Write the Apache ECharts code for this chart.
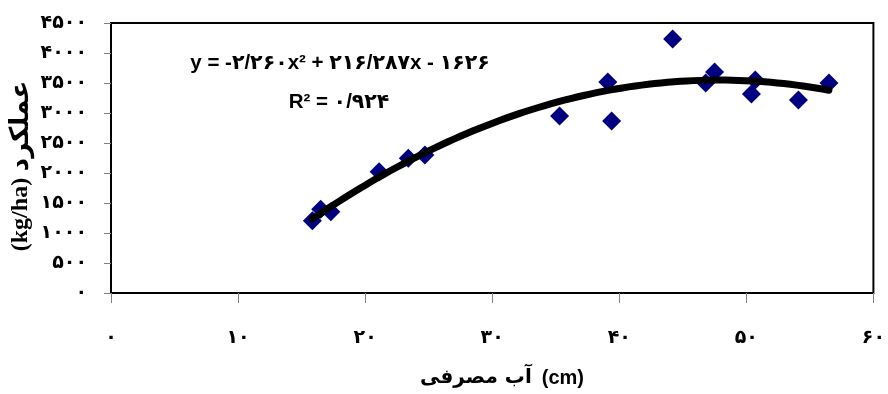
<!DOCTYPE html>
<html>
<head>
<meta charset="utf-8">
<script src="https://cdn.jsdelivr.net/npm/echarts@6/dist/echarts.min.js"></script>
<style>
  html, body { margin: 0; padding: 0; background: #fff; }
  #chart { width: 888px; height: 394px; }
</style>
</head>
<body>
<div id="chart"></div>
<script>
// Water applied (cm) and yield (kg/ha) for each plot
const waterCm = [15.85, 16.5, 17.3, 21.1, 23.4, 24.7, 35.3, 39.1, 39.4, 44.2, 46.8, 47.5, 50.4, 50.7, 54.1, 56.5];
const yieldKg = [1205, 1395, 1355, 2022, 2245, 2300, 2950, 3517, 2867, 4233, 3500, 3683, 3317, 3550, 3217, 3500];

// Quadratic trendline coefficients [a, b, c] for y = a x^2 + b x + c
const trendCoef = [-2.260, 216.287, -1626];

// Axis tick labels (Persian digits)
const xTickLabels = ['۰', '۱۰', '۲۰', '۳۰', '۴۰', '۵۰', '۶۰'];
const yTickLabels = ['۰', '۵۰۰', '۱۰۰۰', '۱۵۰۰', '۲۰۰۰', '۲۵۰۰', '۳۰۰۰', '۳۵۰۰', '۴۰۰۰', '۴۵۰۰'];

const eqText = 'y = -۲/۲۶۰x² + ۲۱۶/۲۸۷x - ۱۶۲۶';
const r2Text = 'R² = ۰/۹۲۴';
const xNameFa = 'آب مصرفی';
const xNameUnit = '(cm)';
const yNameFa = 'عملکرد';
const yNameUnit = '(kg/ha)';

const points = waterCm.map((x, i) => [x, yieldKg[i]]);

// Trendline drawn across the range of the measured points
const xMin = Math.min(...waterCm), xMax = Math.max(...waterCm);
const trend = [];
const steps = 80;
for (let i = 0; i <= steps; i++) {
  const x = xMin + (xMax - xMin) * i / steps;
  trend.push([x, trendCoef[0] * x * x + trendCoef[1] * x + trendCoef[2]]);
}

const chart = echarts.init(document.getElementById('chart'), null, { renderer: 'canvas' });
const digitFont = "'DejaVu Sans', sans-serif";
const sansBold = "'Liberation Sans', 'DejaVu Sans', sans-serif";

chart.setOption({
  animation: false,
  backgroundColor: '#fff',
  grid: {
    left: 111, right: 11, top: 23, bottom: 101,
    show: true, borderColor: '#000', borderWidth: 2, backgroundColor: 'transparent'
  },
  xAxis: {
    type: 'value', min: 0, max: 60, interval: 10,
    axisLine: { show: false },
    axisTick: { show: true, inside: false, length: 10, lineStyle: { color: '#808080', width: 1 } },
    splitLine: { show: false },
    axisLabel: {
      margin: 36, color: '#000', fontSize: 19, fontWeight: 'bold', fontFamily: digitFont,
      formatter: v => xTickLabels[Math.round(v / 10)]
    }
  },
  yAxis: {
    type: 'value', min: 0, max: 4500, interval: 500,
    axisLine: { show: false },
    axisTick: { show: true, inside: false, length: 7, lineStyle: { color: '#808080', width: 1 } },
    splitLine: { show: false },
    axisLabel: {
      margin: 24, color: '#000', fontSize: 19, fontWeight: 'bold', fontFamily: digitFont,
      formatter: v => yTickLabels[Math.round(v / 500)]
    }
  },
  graphic: [
    {
      type: 'text', x: 340, y: 63, z: 10,
      style: { text: eqText, fill: '#000', align: 'center', verticalAlign: 'middle',
               font: 'bold 20.5px ' + sansBold }
    },
    {
      type: 'text', x: 339, y: 102, z: 10,
      style: { text: r2Text, fill: '#000', align: 'center', verticalAlign: 'middle',
               font: 'bold 20.5px ' + sansBold }
    },
    {
      type: 'text', x: 502, y: 378, z: 10,
      style: {
        text: '{fa|' + xNameFa + '}   {en|' + xNameUnit + '}',
        align: 'center', verticalAlign: 'middle',
        rich: {
          fa: { fill: '#000', fontSize: 20, fontWeight: 'bold', fontFamily: "'DejaVu Sans', sans-serif" },
          en: { fill: '#000', fontSize: 20, fontWeight: 'bold', fontFamily: sansBold }
        }
      }
    },
    {
      type: 'text', x: 21, y: 166, rotation: Math.PI / 2, z: 10,
      style: {
        text: '{en|' + yNameUnit + '}  {fa|' + yNameFa + '}',
        align: 'center', verticalAlign: 'middle',
        rich: {
          en: { fill: '#000', fontSize: 24, fontWeight: 'bold', fontFamily: "'Liberation Serif', serif" },
          fa: { fill: '#000', fontSize: 26, fontWeight: 'bold', fontFamily: "'DejaVu Sans', sans-serif" }
        }
      }
    }
  ],
  series: [
    {
      type: 'scatter', data: points, symbol: 'diamond', symbolSize: 19,
      itemStyle: { color: '#000080', opacity: 1 }, z: 2
    },
    {
      type: 'line', data: trend, showSymbol: false, smooth: false,
      lineStyle: { color: '#000', width: 7, cap: 'round', join: 'round' }, z: 3
    }
  ]
});
</script>
</body>
</html>
